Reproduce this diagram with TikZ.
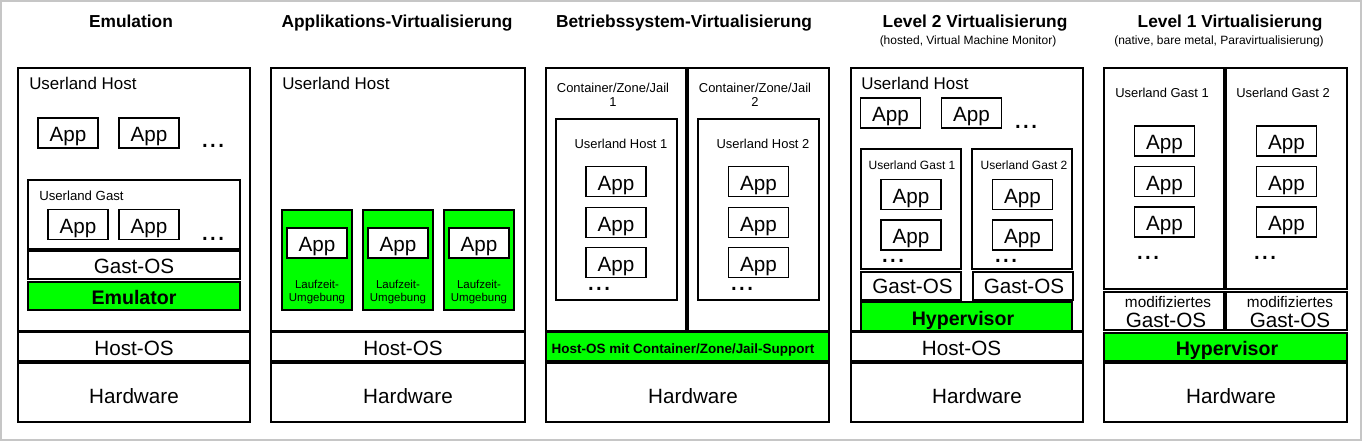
\documentclass[tikz,border=0pt]{standalone}
\usepackage{fontspec}
\setmainfont{Liberation Sans}
\definecolor{gruen}{RGB}{0,255,0}
\newcommand{\appw}{45pt}
\newcommand{\apph}{22.5pt}
\newcommand{\fsize}[1]{\fontsize{#1}{#1}\selectfont}

\begin{document}
\begin{tikzpicture}[x=0.75pt,y=-0.75pt,
    layer/.style={draw=black,line width=1.1pt},
    gruenlayer/.style={layer,fill=gruen}]
                \useasboundingbox (0,0) rectangle (1362,441);
                \draw[gray!45,line width=1pt] (1,1) rectangle (1361,440);

                % Kaesten
                \draw[layer] (18,68) rectangle (250,331);
                \draw[layer] (28,180) rectangle (240,249);
                \draw[layer] (28,251) rectangle (240,279);
                \draw[gruenlayer] (28,282) rectangle (240,310);
                \draw[layer] (18,332) rectangle (250,361);
                \draw[layer] (18,363) rectangle (250,422);

                \draw[layer] (271,68) rectangle (525,331);
                \draw[gruenlayer] (282,210) rectangle (352,310);
                \draw[gruenlayer] (363,210) rectangle (433,310);
                \draw[gruenlayer] (444,210) rectangle (514,310);
                \draw[layer] (271,332) rectangle (525,361);
                \draw[layer] (271,363) rectangle (525,422);

                \draw[layer] (546,68) rectangle (686,331);
                \draw[layer] (688,68) rectangle (829,331);
                \draw[layer] (556,119) rectangle (677,300);
                \draw[layer] (698,119) rectangle (819,300);
                \draw[gruenlayer] (546,332) rectangle (829,361);
                \draw[layer] (546,363) rectangle (829,422);

                \draw[layer] (851,68) rectangle (1083,331);
                \draw[layer] (861,149) rectangle (961,269);
                \draw[layer] (972,149) rectangle (1072,269);
                \draw[layer] (861,272) rectangle (961,300);
                \draw[layer] (973,272) rectangle (1073,300);
                \draw[gruenlayer] (861,302) rectangle (1072,331);
                \draw[layer] (851,332) rectangle (1083,361);
                \draw[layer] (851,363) rectangle (1083,422);

                \draw[layer] (1104,68) rectangle (1224,289);
                \draw[layer] (1226,68) rectangle (1347,289);
                \draw[layer] (1104,292) rectangle (1224,330);
                \draw[layer] (1226,292) rectangle (1347,330);
                \draw[gruenlayer] (1104,333) rectangle (1347,361);
                \draw[layer] (1104,363) rectangle (1347,422);

                % Ueberschriften
                \begin{scope}[every node/.style={text depth=0pt,font=\bfseries\fsize{13}}]
                    \node (t1) at (131,21.5) {Emulation};
                    \node (t2) at (397,21.5) {Applikations-Virtualisierung};
                    \node (t3) at (684,21.5) {Betriebssystem-Virtualisierung};
                    \node (t4) at (975,21.5) {Level 2 Virtualisierung};
                    \node (t5) at (1230,21.5) {Level 1 Virtualisierung};
                \end{scope}
                \begin{scope}[every node/.style={text depth=0pt,font=\fsize{9}}]
                    \node (s4) at (968,40) {(hosted, Virtual Machine Monitor)};
                    \node (s5) at (1219,40) {(native, bare metal, Paravirtualisierung)};
                \end{scope}

                % Apps
                \begin{scope}[every node/.style={draw=black,line width=1.1pt,fill=white,
                        minimum width=\appw,minimum height=\apph,inner sep=0pt,
                        text height=13pt,text depth=0pt,font=\fsize{15.5}}]
                    \node (a1) at (68,133) {App};
                    \node (a2) at (149,133) {App};
                    \node (a3) at (78,224.5) {App};
                    \node (a4) at (149,224.5) {App};

                    \node (b1) at (317,243) {App};
                    \node (b2) at (398,243) {App};
                    \node (b3) at (479,243) {App};

                    \node (c1) at (616,181.5) {App};
                    \node (c2) at (616,222.5) {App};
                    \node (c3) at (616,262.5) {App};
                    \node (c4) at (758.5,181.5) {App};
                    \node (c5) at (758.5,222.5) {App};
                    \node (c6) at (758.5,262.5) {App};

                    \node (d1) at (890.5,113) {App};
                    \node (d2) at (971.5,113) {App};
                    \node (d3) at (911,194.5) {App};
                    \node (d4) at (911,235) {App};
                    \node (d5) at (1022.5,194.5) {App};
                    \node (d6) at (1022.5,235) {App};

                    \node (e1) at (1164.5,141) {App};
                    \node (e2) at (1164.5,181.5) {App};
                    \node (e3) at (1164.5,222) {App};
                    \node (e4) at (1286.5,141) {App};
                    \node (e5) at (1286.5,181.5) {App};
                    \node (e6) at (1286.5,222) {App};
                \end{scope}

                % Punkte
                \begin{scope}[every node/.style={anchor=base,inner sep=0pt,font=\fsize{22}}]
                    \node (p1) at (213,148) {...};
                    \node (p2) at (213,241) {...};
                    \node (p3) at (599,291) {...};
                    \node (p4) at (742,291) {...};
                    \node (p5) at (1026,129) {...};
                    \node (p6) at (893,263) {...};
                    \node (p7) at (1006,263) {...};
                    \node (p8) at (1148,260) {...};
                    \node (p9) at (1265,260) {...};
                \end{scope}

                % Beschriftungen
                \begin{scope}[every node/.style={anchor=west,inner sep=0pt,text depth=0pt,font=\fsize{12.7}}]
                    \node (u1) at (29,83) {Userland Host};
                    \node (u2) at (282,83) {Userland Host};
                    \node (u4) at (861,83) {Userland Host};
                \end{scope}
                \node[anchor=west,inner sep=0pt,text depth=0pt,font=\fsize{9.9}] (g1) at (39,196) {Userland Gast};
                \begin{scope}[every node/.style={text depth=0pt,font=\fsize{9}}]
                    \node (g41) at (912,165) {Userland Gast 1};
                    \node (g42) at (1024,165) {Userland Gast 2};
                \end{scope}
                \begin{scope}[every node/.style={text depth=0pt,font=\fsize{9.7},align=center}]
                    \node (j1) at (613,95.3) {Container/Zone/Jail\\[0.8pt]1};
                    \node (j2) at (755,95.3) {Container/Zone/Jail\\[0.8pt]2};
                    \node (h1) at (621,143.5) {Userland Host 1};
                    \node (h2) at (763,143.5) {Userland Host 2};
                    \node (g51) at (1162,93.3) {Userland Gast 1};
                    \node (g52) at (1283,93.3) {Userland Gast 2};
                \end{scope}
                \begin{scope}[every node/.style={text depth=0pt,font=\fsize{11.5}}]
                    \node (m1) at (1168,302) {modifiziertes};
                    \node (m2) at (1290,302) {modifiziertes};
                \end{scope}
                \begin{scope}[every node/.style={text depth=0pt,font=\fsize{8.6},align=center}]
                    \node (l1) at (317,291.3) {Laufzeit-\\[1.2pt]Umgebung};
                    \node (l2) at (398,291.3) {Laufzeit-\\[1.2pt]Umgebung};
                    \node (l3) at (479,291.3) {Laufzeit-\\[1.2pt]Umgebung};
                \end{scope}

                % Schichten
                \begin{scope}[every node/.style={text depth=0pt,font=\fsize{15.5}}]
                    \node (go1) at (134,266.5) {Gast-OS};
                    \node (go41) at (912.5,286.7) {Gast-OS};
                    \node (go42) at (1024,286.7) {Gast-OS};
                    \node (go51) at (1166,320) {Gast-OS};
                    \node (go52) at (1290,320) {Gast-OS};
                    \node (ho1) at (134,348.5) {Host-OS};
                    \node (ho2) at (403,348.5) {Host-OS};
                    \node (ho4) at (961.5,348.5) {Host-OS};
                    \node (hw1) at (134,396.5) {Hardware};
                    \node (hw2) at (408,396.5) {Hardware};
                    \node (hw3) at (693,396.5) {Hardware};
                    \node (hw4) at (977,396.5) {Hardware};
                    \node (hw5) at (1231,396.5) {Hardware};
                \end{scope}
                \begin{scope}[every node/.style={text depth=0pt,font=\bfseries\fsize{14.7}}]
                    \node (em) at (134,297.5) {Emulator};
                    \node (hv4) at (963,318) {Hypervisor};
                    \node (hv5) at (1227,348.3) {Hypervisor};
                \end{scope}
                \node[text depth=0pt,font=\bfseries\fsize{10.1}] (ho3) at (683,348.3) {Host-OS mit Container/Zone/Jail-Support};
            \end{tikzpicture}
\end{document}
